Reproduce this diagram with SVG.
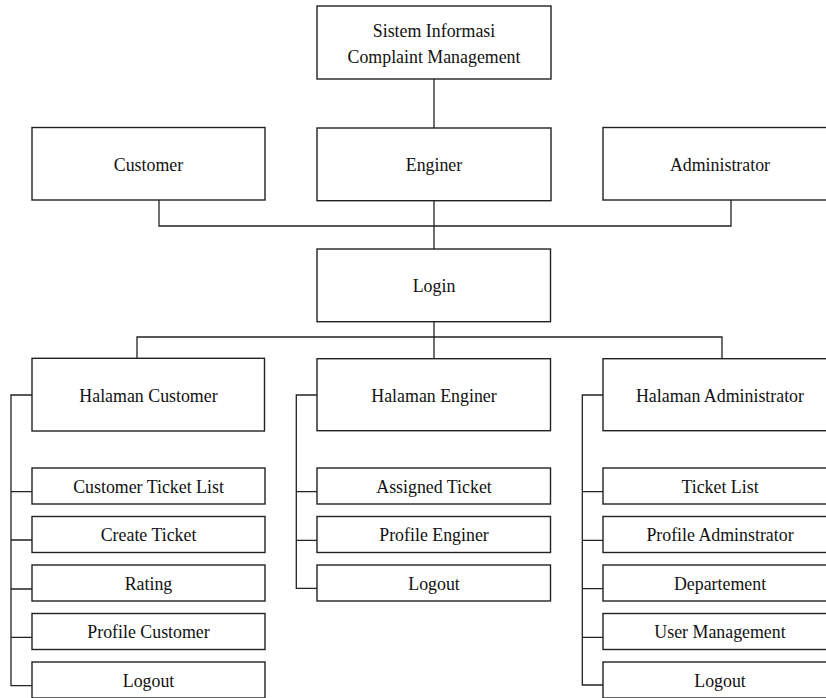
<svg xmlns="http://www.w3.org/2000/svg" width="826" height="698" viewBox="0 0 826 698">
  <style>
    .box{fill:#fff;stroke:#222;stroke-width:1.4}
    .ln{fill:none;stroke:#222;stroke-width:1.3}
    .t{font-family:"Liberation Serif","Times New Roman",serif;font-size:19px;fill:#111;text-anchor:middle;transform-box:fill-box;transform-origin:center;transform:scaleX(0.94)}
  </style>
  <rect width="826" height="698" fill="#fff"/>

  <!-- connectors -->
  <g id="connectors" class="ln">
    <path d="M434 79V128M434 200.7V249"/>
    <path d="M159 200V226H731V200"/>
    <path d="M434 322V358.7"/>
    <path d="M137 358.3V337H722V358.7"/>
    <!-- Halaman Customer bracket -->
    <path d="M32 395H11V685.7H32M11 491.7H32M11 540H32M11 589H32M11 637.3H32"/>
    <!-- Halaman Enginer bracket -->
    <path d="M317 395H296.3V588.3H317M296.3 491.7H317M296.3 540.3H317"/>
    <!-- Halaman Administrator bracket -->
    <path d="M603 395H582.3V685H603M582.3 491.7H603M582.3 540.3H603M582.3 588.7H603M582.3 637.3H603"/>
  </g>

  <!-- top level -->
  <g id="sistem">
    <rect class="box" x="317" y="6" width="234" height="73"/>
    <text class="t" x="434" y="37.5">Sistem Informasi</text>
    <text class="t" x="434" y="63.5">Complaint Management</text>
  </g>

  <!-- user roles -->
  <g id="customer">
    <rect class="box" x="32" y="127.5" width="233" height="72.5"/>
    <text class="t" x="148.5" y="171">Customer</text>
  </g>
  <g id="enginer">
    <rect class="box" x="317" y="128" width="234" height="72.7"/>
    <text class="t" x="434" y="171.5">Enginer</text>
  </g>
  <g id="administrator">
    <rect class="box" x="603" y="127.5" width="234" height="72.5"/>
    <text class="t" x="720" y="171">Administrator</text>
  </g>

  <g id="login">
    <rect class="box" x="317" y="249" width="233.5" height="72.7"/>
    <text class="t" x="434" y="292">Login</text>
  </g>

  <!-- pages -->
  <g id="halaman-customer">
    <rect class="box" x="32" y="358.3" width="232.5" height="72.7"/>
    <text class="t" x="148.5" y="402.5">Halaman Customer</text>
  </g>
  <g id="halaman-enginer">
    <rect class="box" x="317" y="358.7" width="233.5" height="72"/>
    <text class="t" x="434" y="402.5">Halaman Enginer</text>
  </g>
  <g id="halaman-administrator">
    <rect class="box" x="603" y="358.7" width="234" height="72"/>
    <text class="t" x="720" y="402.5">Halaman Administrator</text>
  </g>

  <!-- customer menu -->
  <g id="customer-ticket-list">
    <rect class="box" x="32" y="468" width="233" height="36"/>
    <text class="t" x="148.5" y="493">Customer Ticket List</text>
  </g>
  <g id="create-ticket">
    <rect class="box" x="32" y="516.5" width="233" height="36"/>
    <text class="t" x="148.5" y="541.5">Create Ticket</text>
  </g>
  <g id="rating">
    <rect class="box" x="32" y="565" width="233" height="36"/>
    <text class="t" x="148.5" y="590">Rating</text>
  </g>
  <g id="profile-customer">
    <rect class="box" x="32" y="613.5" width="233" height="36"/>
    <text class="t" x="148.5" y="638.5">Profile Customer</text>
  </g>
  <g id="logout-customer">
    <rect class="box" x="32" y="662" width="233" height="36"/>
    <text class="t" x="148.5" y="687">Logout</text>
  </g>

  <!-- enginer menu -->
  <g id="assigned-ticket">
    <rect class="box" x="317" y="468" width="233.5" height="36"/>
    <text class="t" x="434" y="493">Assigned Ticket</text>
  </g>
  <g id="profile-enginer">
    <rect class="box" x="317" y="516.5" width="233.5" height="36"/>
    <text class="t" x="434" y="541.5">Profile Enginer</text>
  </g>
  <g id="logout-enginer">
    <rect class="box" x="317" y="565" width="233.5" height="36"/>
    <text class="t" x="434" y="590">Logout</text>
  </g>

  <!-- administrator menu -->
  <g id="ticket-list">
    <rect class="box" x="603" y="468" width="234" height="36"/>
    <text class="t" x="720" y="493">Ticket List</text>
  </g>
  <g id="profile-adminstrator">
    <rect class="box" x="603" y="516.5" width="234" height="36"/>
    <text class="t" x="720" y="541.5">Profile Adminstrator</text>
  </g>
  <g id="departement">
    <rect class="box" x="603" y="565" width="234" height="36"/>
    <text class="t" x="720" y="590">Departement</text>
  </g>
  <g id="user-management">
    <rect class="box" x="603" y="613.5" width="234" height="36"/>
    <text class="t" x="720" y="638.5">User Management</text>
  </g>
  <g id="logout-administrator">
    <rect class="box" x="603" y="662" width="234" height="36"/>
    <text class="t" x="720" y="687">Logout</text>
  </g>
</svg>
